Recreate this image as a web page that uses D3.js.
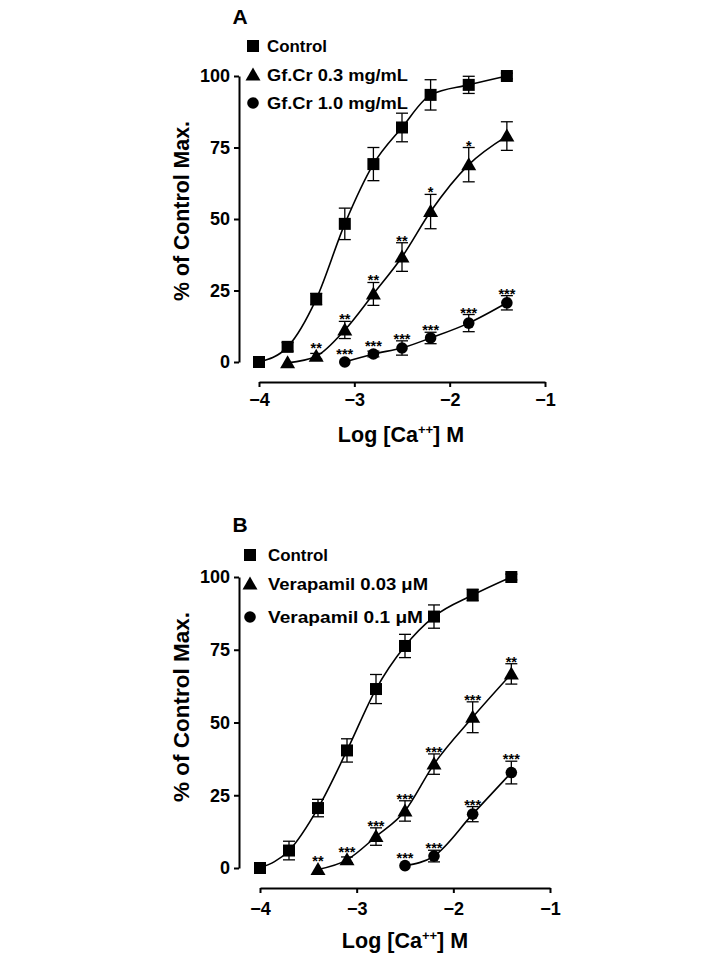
<!DOCTYPE html>
<html><head><meta charset="utf-8">
<script src="https://cdn.jsdelivr.net/npm/d3@7"></script>
<style>
body{margin:0;background:#fff}
svg{display:block}
text{font-family:"Liberation Sans",Arial,Helvetica,sans-serif;font-weight:bold;fill:#000}
</style></head>
<body><svg id="c" width="720" height="960"></svg>
<script>
// ---- shared ----
const logCa = [-4, -3.7, -3.4, -3.1, -2.8, -2.5, -2.2, -1.8, -1.4];
const xTicks = [-4, -3, -2, -1];
const yTicks = [0, 25, 50, 75, 100];

// ---- Panel A ----
const aControl    = [0, 5.3, 22, 48.3, 69.2, 82, 93.4, 96.9, 100];
const aControlErr = [0, 1.5, 2, 5.5, 5.8, 5, 5.3, 3, 1];
const aControlSig = ["", "", "", "", "", "", "", "", ""];
const aGf03X   = [-3.7, -3.4, -3.1, -2.8, -2.5, -2.2, -1.8, -1.4];
const aGf03    = [-0.3, 2, 11.2, 23.8, 36.7, 52.6, 69, 79];
const aGf03Err = [0, 1, 3, 4, 5, 6, 6, 5];
const aGf03Sig = ["", "**", "**", "**", "**", "*", "*", ""];
const aGf10X   = [-3.1, -2.8, -2.5, -2.2, -1.8, -1.4];
const aGf10    = [0, 2.8, 4.9, 8.4, 13.6, 20.7];
const aGf10Err = [0, 1, 2.5, 2, 3, 2.5];
const aGf10Sig = ["***", "***", "***", "***", "***", "***"];
const aLegend  = ["Control", "Gf.Cr 0.3 mg/mL", "Gf.Cr 1.0 mg/mL"];

// ---- Panel B ----
const bControl    = [0, 6, 20.6, 40.4, 61.5, 76.3, 86.4, 93.8, 100];
const bControlErr = [0, 3.2, 3, 4, 5, 4, 4, 2, 1];
const bControlSig = ["", "", "", "", "", "", "", "", ""];
const bVer003X   = [-3.4, -3.1, -2.8, -2.5, -2.2, -1.8, -1.4];
const bVer003    = [-0.5, 2.8, 10.8, 19.6, 35.7, 51.8, 66.7];
const bVer003Err = [0, 1, 3, 3.5, 3.5, 5.3, 3.5];
const bVer003Sig = ["**", "***", "***", "***", "***", "***", "**"];
const bVer01X   = [-2.5, -2.2, -1.8, -1.4];
const bVer01    = [0.8, 4.1, 18.5, 32.8];
const bVer01Err = [0, 2, 2.6, 3.9];
const bVer01Sig = ["***", "***", "***", "***"];
const bLegend   = ["Control", "Verapamil 0.03 \u03BCM", "Verapamil 0.1 \u03BCM"];

const svg = d3.select("#c");

function marker(g, type, cx, cy) {
  if (type === "square") {
    g.append("rect").attr("x", cx - 6).attr("y", cy - 6).attr("width", 12).attr("height", 12).attr("fill", "#000");
  } else if (type === "triangle") {
    g.append("path").attr("d", `M${cx},${cy - 7.5}L${cx + 7.5},${cy + 5.5}L${cx - 7.5},${cy + 5.5}Z`).attr("fill", "#000");
  } else {
    g.append("circle").attr("cx", cx).attr("cy", cy).attr("r", 5.8).attr("fill", "#000");
  }
}

function panel(cfg) {
  const x = d3.scaleLinear().domain([-4, -1]).range([cfg.x0, cfg.x1]);
  const y = d3.scaleLinear().domain([0, 100]).range([cfg.y0, cfg.y1]);
  const g = svg.append("g");

  // axes
  const ya = g.append("g").attr("transform", `translate(${cfg.ax},0)`)
    .call(d3.axisLeft(y).tickValues(yTicks).tickSize(5).tickSizeOuter(0).tickPadding(4));
  const xa = g.append("g").attr("transform", `translate(0,${cfg.xaY})`)
    .call(d3.axisBottom(x).tickValues(xTicks).tickFormat(d3.format("d")).tickSize(5).tickSizeOuter(0).tickPadding(cfg.xPad));
  [ya, xa].forEach(a => {
    a.selectAll("path,line").attr("stroke", "#000").attr("stroke-width", 2);
    a.selectAll("text").attr("font-size", 18).attr("font-family", '"Liberation Sans",Arial,sans-serif').attr("font-weight", "bold");
  });

  // series
  const line = d3.line().x(d => x(d[0])).y(d => y(d[1])).curve(d3.curveMonotoneX);
  cfg.series.forEach(s => {
    const pts = s.xs.map((v, i) => [v, s.ys[i], s.err[i], s.sig[i]]);
    g.append("path").attr("d", line(pts)).attr("fill", "none").attr("stroke", "#000").attr("stroke-width", 1.6);
    pts.forEach(p => {
      const cx = x(p[0]), cy = y(p[1]);
      if (p[2] > 0) {
        const t = y(p[1] + p[2]), b = y(p[1] - p[2]);
        g.append("line").attr("x1", cx).attr("x2", cx).attr("y1", t).attr("y2", b).attr("stroke", "#000").attr("stroke-width", 1.3);
        [t, b].forEach(yy => g.append("line").attr("x1", cx - 6).attr("x2", cx + 6).attr("y1", yy).attr("y2", yy).attr("stroke", "#000").attr("stroke-width", 1.3));
      }
      marker(g, s.type, cx, cy);
      if (p[3]) {
        const top = Math.min(y(p[1] + p[2]), cy - 6);
        g.append("text").attr("x", cx).attr("y", top + 3).attr("text-anchor", "middle")
          .attr("font-size", 14.5).text(p[3]);
      }
    });
  });

  // legend
  cfg.legend.forEach((t, i) => {
    const ly = cfg.legY[i];
    marker(g, ["square", "triangle", "circle"][i], cfg.legMX, ly);
    g.append("text").attr("x", cfg.legTX).attr("y", ly).attr("dy", "0.36em").attr("font-size", 16)
      .attr("textLength", cfg.legW[i]).attr("lengthAdjust", "spacingAndGlyphs").text(t);
  });

  // title letter
  g.append("text").attr("x", cfg.titleX).attr("y", cfg.titleY).attr("text-anchor", "middle").attr("font-size", 21).text(cfg.title);

  // y label
  g.append("text").attr("transform", `translate(${cfg.ylX},${cfg.ylY}) rotate(-90)`)
    .attr("text-anchor", "middle").attr("font-size", cfg.ylSize).text("% of Control Max.");

  // x label
  const xl = g.append("text").attr("x", cfg.xlX).attr("y", cfg.xlY).attr("text-anchor", "middle").attr("font-size", 21.5);
  xl.append("tspan").text("Log [Ca");
  xl.append("tspan").attr("dy", -8).attr("font-size", 13).text("++");
  xl.append("tspan").attr("dy", 8).text("] M");
}

panel({
  x0: 259, x1: 545, y0: 362, y1: 76, ax: 239, xaY: 382, xPad: 6,
  series: [
    {type: "square", xs: logCa, ys: aControl, err: aControlErr, sig: aControlSig},
    {type: "triangle", xs: aGf03X, ys: aGf03, err: aGf03Err, sig: aGf03Sig},
    {type: "circle", xs: aGf10X, ys: aGf10, err: aGf10Err, sig: aGf10Sig}
  ],
  legend: aLegend, legY: [46, 75, 103], legW: [60, 141, 141], legMX: 253, legTX: 267,
  title: "A", titleX: 240, titleY: 24,
  ylX: 189, ylY: 211, ylSize: 21.3,
  xlX: 401, xlY: 442
});

panel({
  x0: 260, x1: 550, y0: 868, y1: 577, ax: 239, xaY: 888, xPad: 9,
  series: [
    {type: "square", xs: logCa, ys: bControl, err: bControlErr, sig: bControlSig},
    {type: "triangle", xs: bVer003X, ys: bVer003, err: bVer003Err, sig: bVer003Sig},
    {type: "circle", xs: bVer01X, ys: bVer01, err: bVer01Err, sig: bVer01Sig}
  ],
  legend: bLegend, legY: [555, 584, 617], legW: [60, 160, 155], legMX: 250, legTX: 268,
  title: "B", titleX: 240, titleY: 532,
  ylX: 189, ylY: 707, ylSize: 22.5,
  xlX: 405, xlY: 948
});
</script></body></html>
